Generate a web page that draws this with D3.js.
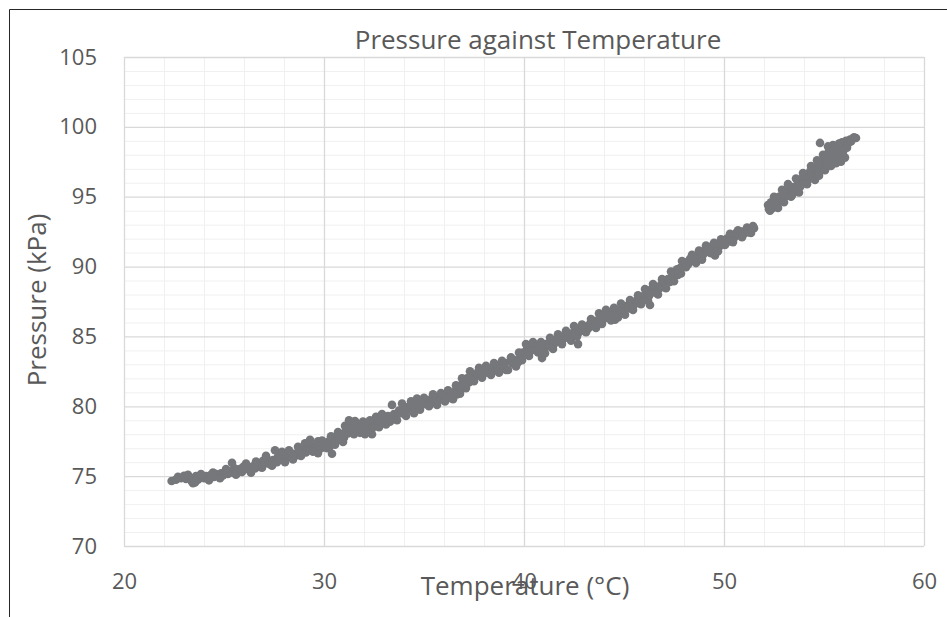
<!DOCTYPE html>
<html>
<head>
<meta charset="utf-8">
<script src="https://cdn.jsdelivr.net/npm/d3@7/dist/d3.min.js"></script>
<style>
  html, body { margin: 0; padding: 0; background: #fff; }
  svg { display: block; }
</style>
</head>
<body>
<svg id="chart" width="947" height="617"></svg>
<script>
const title = "Pressure against Temperature";
const xTitle = "Temperature (°C)";
const yTitle = "Pressure (kPa)";
const xTicks = [20, 30, 40, 50, 60];
const yTicks = [70, 75, 80, 85, 90, 95, 100, 105];
const xMinor = [22, 24, 26, 28, 32, 34, 36, 38, 42, 44, 46, 48, 52, 54, 56, 58];
const yMinor = [71,72,73,74,76,77,78,79,81,82,83,84,86,87,88,89,91,92,93,94,96,97,98,99,101,102,103,104];

const temperature = [
  22.38,22.7,22.85,23.0,23.1,23.25,23.4,23.45,23.5,23.6,23.7,23.8,23.9,
  24.0,24.1,24.2,24.35,24.5,24.6,24.7,24.85,24.95,
  25.05,25.2,25.3,25.45,25.55,25.7,25.8,25.95,
  26.05,26.2,26.3,26.45,26.55,26.7,26.8,26.95,
  27.05,27.15,27.3,27.45,27.55,27.7,27.8,27.95,
  28.1,28.2,28.35,28.5,28.65,28.8,28.95,
  29.1,29.2,29.35,29.5,29.6,29.7,29.75,29.85,
  30.05,30.2,30.3,30.4,30.5,30.6,30.75,30.9,
  31.0,31.1,31.2,31.35,31.45,31.6,31.7,31.85,
  32.0,32.05,32.1,32.25,32.4,32.5,32.65,32.8,32.95,
  33.05,33.2,33.35,33.5,33.6,33.75,33.85,33.95,
  34.05,34.2,34.3,34.45,34.55,34.7,34.85,34.95,
  35.1,35.2,35.35,35.5,35.6,35.75,35.9,
  36.0,36.15,36.3,36.4,36.55,36.65,36.75,36.85,36.95,
  37.05,37.15,37.25,37.35,37.45,37.6,37.7,37.85,37.95,
  38.05,38.2,38.3,38.45,38.55,38.7,38.8,38.95,
  39.05,39.2,39.3,39.45,39.55,39.7,39.8,39.95,
  40.05,40.15,40.3,40.4,40.55,40.65,40.8,40.9,
  41.0,41.1,41.25,41.35,41.5,41.6,41.75,41.85,41.95,
  42.05,42.2,42.3,42.45,42.55,42.7,42.75,42.85,42.95,
  43.05,43.2,43.3,43.45,43.55,43.7,43.8,43.95,
  44.05,44.15,44.3,44.45,44.55,44.6,44.75,44.9,
  45.0,45.15,45.25,45.4,45.5,45.65,45.75,45.9,
  46.0,46.1,46.25,46.3,46.35,46.5,46.6,46.75,46.85,46.95,
  47.05,47.2,47.3,47.45,47.55,47.7,47.8,47.95,
  48.05,48.2,48.3,48.45,48.55,48.7,48.8,48.95,
  49.05,49.2,49.3,49.45,49.55,49.6,49.75,49.9,
  50.0,50.15,50.25,50.4,50.5,50.6,50.75,50.85,51.0,
  51.1,51.25,51.4,51.5,
  52.2,52.25,52.35,52.45,52.55,52.65,52.75,52.85,52.95,
  53.05,53.15,53.25,53.35,53.45,53.55,53.7,53.8,53.9,
  54.0,54.1,54.2,54.3,54.4,54.5,54.6,54.7,54.8,54.8,54.9,
  55.0,55.1,55.2,55.2,55.3,55.4,55.5,55.6,55.6,55.7,55.8,55.85,55.9,
  56.0,56.05,56.1,56.2,56.3,56.45,56.6,
  // second pass of readings (upper / lower edges of the band)
  22.6,23.2,23.55,23.85,24.25,24.45,24.8,25.1,25.4,25.6,25.9,
  26.1,26.35,26.6,26.9,27.1,27.4,27.55,27.65,27.9,28.05,
  28.25,28.45,28.7,28.85,29.05,29.3,29.45,29.7,29.9,
  30.15,30.35,30.55,30.7,30.95,31.05,31.3,31.25,31.5,31.55,31.8,31.95,
  32.15,32.3,32.45,32.6,32.75,32.9,33.1,33.4,33.3,33.65,33.9,
  34.1,34.35,34.5,34.65,34.8,35.0,35.25,35.45,35.65,35.85,
  36.05,36.2,36.45,36.6,36.8,36.9,37.1,37.3,37.5,37.75,37.9,
  38.1,38.35,38.5,38.75,38.9,39.1,39.35,39.6,39.75,39.9,
  40.1,40.25,40.45,40.7,40.85,41.05,41.3,41.45,41.7,41.9,
  42.1,42.35,42.5,42.65,42.9,43.1,43.35,43.6,43.75,43.9,
  44.1,44.35,44.5,44.7,44.85,45.05,45.3,45.45,45.7,45.85,
  46.05,46.2,46.45,46.7,46.9,47.1,47.35,47.5,47.65,47.85,47.9,
  48.1,48.4,48.6,48.75,48.9,49.1,49.35,49.5,49.7,49.85,
  50.05,50.3,50.45,50.7,50.9,51.15,51.35,51.45,
  52.3,52.5,52.7,52.9,53.0,53.2,53.4,53.6,53.75,53.95,54.15,54.35,54.55,54.65,
  54.75,54.95,55.05,55.25,55.35,55.45,55.55,55.75,55.95,56.15,56.35,56.5
];
const pressure = [
  74.65,74.95,74.85,75.02,74.8,74.95,74.6,74.5,74.85,75.0,74.75,74.9,75.05,
  74.85,75.0,74.8,75.1,74.95,75.15,75.0,75.2,75.05,
  75.3,75.15,75.35,75.25,75.55,75.4,75.5,75.65,
  75.5,75.6,75.45,75.7,75.55,75.8,75.65,76.1,
  75.9,76.2,75.85,76.15,76.0,76.4,76.2,76.35,
  76.3,76.55,76.4,76.6,76.5,76.75,76.9,
  76.7,77.05,77.2,76.85,77.1,76.65,77.3,77.0,
  77.2,77.45,77.15,76.6,77.5,77.8,77.6,78.0,
  77.75,78.3,78.05,78.6,78.2,78.75,78.4,78.6,
  78.3,78.0,78.65,78.5,78.0,78.75,78.95,78.8,79.1,
  78.95,79.3,79.2,79.45,79.3,79.7,79.5,79.85,
  79.6,79.95,79.75,80.0,79.85,80.2,80.05,80.3,
  80.15,80.45,80.3,80.55,80.35,80.65,80.5,
  80.7,80.55,80.9,80.75,81.1,80.85,81.4,81.2,81.75,
  81.5,82.0,81.7,82.25,82.1,82.35,82.2,82.5,82.3,
  82.55,82.4,82.7,82.55,82.85,82.7,83.0,82.8,
  83.1,82.6,83.2,83.05,83.3,83.15,83.6,83.85,
  83.7,84.1,83.9,84.25,84.05,84.35,84.2,83.45,
  84.1,84.45,84.3,84.6,84.45,84.8,84.65,85.0,84.8,
  85.05,84.9,85.2,85.1,85.4,84.45,85.3,85.6,85.45,
  85.7,85.55,85.9,85.75,86.1,85.95,86.4,86.2,
  86.55,86.35,86.7,86.5,86.2,86.85,86.7,87.0,
  86.85,87.2,87.0,87.4,87.25,87.6,87.45,87.85,
  87.7,88.1,87.9,87.25,88.35,88.15,88.55,88.4,88.7,88.55,
  88.85,89.1,88.9,89.35,89.6,89.4,89.9,90.1,
  90.3,90.15,90.55,90.4,90.75,90.6,91.0,90.85,
  91.2,91.05,91.4,91.25,90.8,91.55,91.4,91.7,
  91.85,92.0,91.8,92.2,92.05,92.4,92.25,92.5,92.35,
  92.6,92.45,92.7,92.75,
  94.4,94.1,94.6,94.2,94.75,94.5,95.0,94.8,95.3,
  95.0,95.5,95.25,95.0,95.7,95.45,96.0,95.7,96.3,
  96.0,96.5,96.2,96.8,96.4,97.0,96.6,97.2,96.8,98.85,97.5,
  97.1,97.7,97.3,98.6,98.0,97.6,97.9,98.3,97.4,97.8,98.5,97.5,98.9,
  98.6,97.8,99.0,98.8,99.1,99.15,99.2,
  // second pass
  74.75,75.1,74.55,75.15,74.7,75.25,74.85,75.5,75.95,75.1,75.3,
  75.9,75.25,76.05,75.6,76.45,75.75,76.85,76.0,76.75,76.0,
  76.85,76.2,77.1,76.45,77.35,77.6,76.75,77.5,77.55,
  77.0,77.85,77.25,78.15,77.45,78.6,78.8,79.0,78.0,78.95,78.1,78.9,
  78.2,79.0,78.5,79.25,78.5,79.45,78.7,80.1,78.9,79.0,80.2,
  79.3,80.35,79.5,80.55,79.75,80.6,80.0,80.85,80.1,80.95,
  80.35,81.15,80.5,81.5,80.9,82.0,81.3,82.5,81.8,82.75,82.05,
  82.9,82.25,83.1,82.4,83.25,82.6,83.5,82.85,83.85,83.3,
  84.45,83.6,84.6,83.85,84.6,83.8,84.9,84.1,85.15,84.45,
  85.4,84.7,85.75,85.0,85.85,85.3,86.25,85.6,86.65,85.9,
  86.9,86.15,87.05,86.35,87.35,86.55,87.6,86.9,87.95,87.3,
  88.4,87.55,88.75,88.0,89.1,88.45,89.65,88.95,89.8,89.5,90.4,
  89.95,90.85,90.25,91.15,90.5,91.5,90.95,91.7,91.1,91.95,
  91.55,92.35,91.75,92.6,92.1,92.8,92.4,92.9,
  94.0,95.0,94.2,95.5,94.6,95.9,95.1,96.3,95.3,96.7,95.9,97.2,96.2,97.6,
  96.5,98.0,96.9,98.3,97.2,98.7,97.5,98.8,98.2,98.5,98.95,99.25
];

const svg = d3.select("#chart");
const textColor = "#595959";
const font = "'Open Sans', 'Liberation Sans', sans-serif";

const x = d3.scaleLinear().domain([20, 60]).range([124, 924]);
const y = d3.scaleLinear().domain([70, 105]).range([546, 57]);

// outer chart border
svg.append("path")
  .attr("d", "M9.5,617 V9.5 H947")
  .attr("fill", "none").attr("stroke", "#262626").attr("stroke-width", 1);

// minor gridlines
svg.append("g").attr("transform", `translate(0,${y(70)})`)
  .call(d3.axisBottom(x).tickValues(xMinor).tickSize(-(y(70) - y(105))).tickFormat(""))
  .call(g => g.select(".domain").remove())
  .call(g => g.selectAll("line").attr("stroke", "#f0f0f0").attr("stroke-width", 1));
svg.append("g").attr("transform", `translate(${x(20)},0)`)
  .call(d3.axisLeft(y).tickValues(yMinor).tickSize(-(x(60) - x(20))).tickFormat(""))
  .call(g => g.select(".domain").remove())
  .call(g => g.selectAll("line").attr("stroke", "#f0f0f0").attr("stroke-width", 1));

// major gridlines
svg.append("g").attr("transform", `translate(0,${y(70)})`)
  .call(d3.axisBottom(x).tickValues(xTicks).tickSize(-(y(70) - y(105))).tickFormat(""))
  .call(g => g.select(".domain").remove())
  .call(g => g.selectAll("line").attr("stroke", "#d9d9d9").attr("stroke-width", 1.3));
svg.append("g").attr("transform", `translate(${x(20)},0)`)
  .call(d3.axisLeft(y).tickValues(yTicks).tickSize(-(x(60) - x(20))).tickFormat(""))
  .call(g => g.select(".domain").remove())
  .call(g => g.selectAll("line").attr("stroke", "#d9d9d9").attr("stroke-width", 1.3));

// tick labels
svg.append("g").attr("transform", `translate(0,${y(70)})`)
  .call(d3.axisBottom(x).tickValues(xTicks).tickSize(0).tickPadding(27).tickFormat(d3.format("d")))
  .call(g => g.select(".domain").remove())
  .call(g => g.selectAll("text").attr("fill", textColor).style("font-family", font).style("font-size", "22px"));
svg.append("g").attr("transform", `translate(${x(20)},0)`)
  .call(d3.axisLeft(y).tickValues(yTicks).tickSize(0).tickPadding(27).tickFormat(d3.format("d")))
  .call(g => g.select(".domain").remove())
  .call(g => g.selectAll("text").attr("fill", textColor).style("font-family", font).style("font-size", "22px"));

// data points
const pts = temperature.map((t, i) => ({t, p: pressure[i]}));
svg.append("g").selectAll("circle").data(pts).join("circle")
  .attr("cx", d => x(d.t)).attr("cy", d => y(d.p)).attr("r", 4.3)
  .attr("fill", "#76777a");

// titles
svg.append("text").attr("x", 538).attr("y", 49).attr("text-anchor", "middle")
  .attr("fill", textColor).style("font-family", font).style("font-size", "26px").text(title);
svg.append("text").attr("x", 525).attr("y", 595).attr("text-anchor", "middle")
  .attr("fill", textColor).style("font-family", font).style("font-size", "26px").text(xTitle);
svg.append("text").attr("transform", "translate(46,300) rotate(-90)").attr("text-anchor", "middle")
  .attr("fill", textColor).style("font-family", font).style("font-size", "26px").text(yTitle);
</script>
</body>
</html>
